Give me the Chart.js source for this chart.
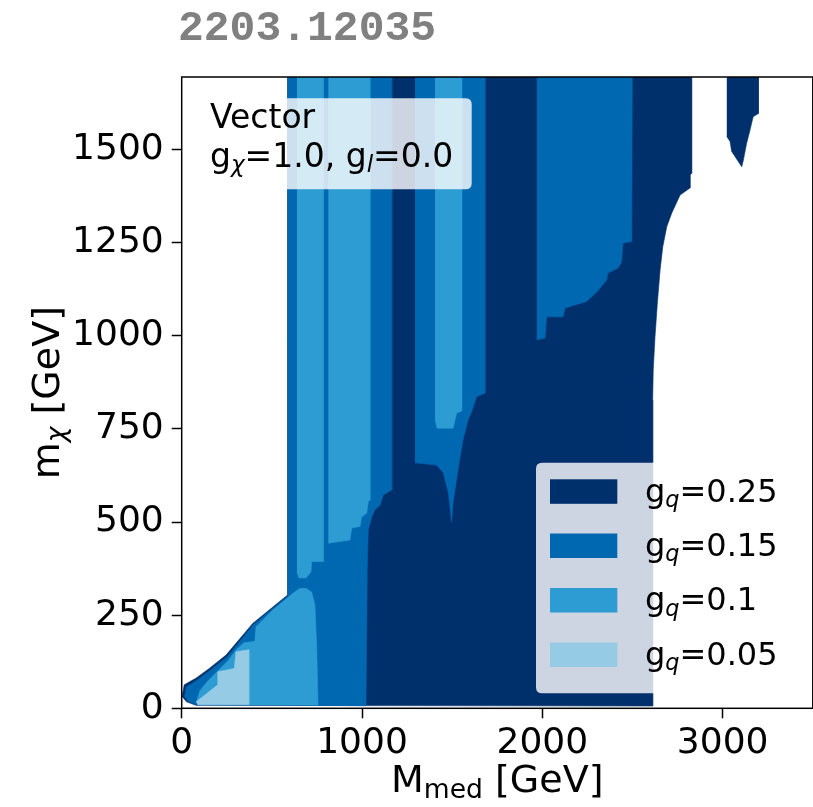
<!DOCTYPE html>
<html><head><meta charset="utf-8">
<script src="https://cdn.jsdelivr.net/npm/chart.js@4.4.0/dist/chart.umd.min.js"></script>
<style>
html,body{margin:0;padding:0;background:#fff;overflow:hidden;width:813px;height:807px;}
canvas{display:block;}
</style></head><body>
<canvas id="c" width="820" height="807"></canvas>
<script>
// ---- tick labels ----
const xTicks = [0, 1000, 2000, 3000];
const yTicks = [0, 250, 500, 750, 1000, 1250, 1500];
// ---- legend entries ----
const couplings = ['0.25', '0.15', '0.1', '0.05'];
const colors = ['#00306c', '#0067b1', '#2c9cd3', '#96cbe5'];
// ---- excluded regions [M_med, m_chi] in GeV ----
const g025_main = [[2,31],[14,63],[79,81],[153,107],[246,143],[394,228],[587,304],[587,1695],[2828,1695],[2828,1436],[2819,1432],[2819,1397],[2764,1378],[2718,1330],[2690,1293],[2668,1239],[2653,1176],[2638,1088],[2625,998],[2615,908],[2612,828],[2612,6],[79,8],[24,18]];
const g025_island = [[3023,1695],[3198,1695],[3198,1597],[3169,1588],[3152,1553],[3133,1517],[3115,1472],[3106,1454],[3050,1495],[3041,1522],[3023,1535]];
const g015_left = [[587,1695],[1165,1695],[1165,586],[1118,573],[1100,546],[1072,533],[1054,514],[1035,479],[1029,371],[1022,7],[79,10],[35,19],[16,32],[26,57],[87,76],[160,103],[254,139],[398,225],[587,301]];
const g015_centre = [[1294,1695],[1682,1695],[1682,846],[1636,837],[1608,796],[1588,774],[1560,720],[1532,640],[1505,551],[1497,501],[1479,578],[1451,632],[1414,653],[1294,659]];
const g015_right = [[1969,1695],[2499,1695],[2496,1253],[2447,1249],[2440,1199],[2420,1182],[2364,1169],[2357,1150],[2302,1118],[2246,1092],[2126,1075],[2115,1051],[2024,1051],[2015,994],[1969,989]];
const g010_strip1 = [[639,1695],[785,1695],[785,394],[721,394],[717,366],[689,350],[651,350],[639,366]];
const g010_strip2 = [[813,1695],[1044,1695],[1044,559],[1035,555],[1026,524],[998,514],[989,488],[943,484],[933,452],[813,443]];
const g010_strip3 = [[1405,1695],[1553,1695],[1553,798],[1525,793],[1505,752],[1416,752],[1405,774]];
const g010_low = [[756,8],[749,162],[739,277],[721,312],[689,322],[656,322],[620,310],[500,262],[412,219],[405,180],[345,176],[300,156],[257,128],[201,101],[146,74],[101,47],[85,22],[90,8]];
const g005_low = [[79,17],[200,63],[200,98],[292,107],[301,152],[372,157],[372,10],[90,10]];

const regions = [
  {pts: g025_main, c: 0}, {pts: g025_island, c: 0},
  {pts: g015_left, c: 1}, {pts: g015_centre, c: 1}, {pts: g015_right, c: 1},
  {pts: g010_strip1, c: 2}, {pts: g010_strip2, c: 2}, {pts: g010_strip3, c: 2}, {pts: g010_low, c: 2},
  {pts: g005_low, c: 3}
];

const datasets = regions.map((r, i) => ({
  label: 'g_q=' + couplings[r.c],
  data: r.pts.map(p => ({x: p[0], y: p[1]})),
  showLine: true,
  fill: 'shape',
  backgroundColor: colors[r.c],
  borderColor: colors[r.c],
  borderWidth: 0.6,
  pointRadius: 0,
  tension: 0,
  order: 10 - r.c
}));

const FONT = '"DejaVu Sans", sans-serif';

function richWidth(ctx, parts, size) {
  let w = 0;
  for (const p of parts) {
    const s = p.sub ? size * 0.7 : size;
    ctx.font = (p.it ? 'italic ' : '') + s + 'px ' + FONT;
    w += ctx.measureText(p.t).width;
  }
  return w;
}
function drawRich(ctx, parts, x, y, size) {
  for (const p of parts) {
    const s = p.sub ? size * 0.7 : size;
    ctx.font = (p.it ? 'italic ' : '') + s + 'px ' + FONT;
    ctx.fillText(p.t, x, y + (p.sub ? size * 0.17 : 0));
    x += ctx.measureText(p.t).width;
  }
}
function rrect(ctx, x, y, w, h, r) {
  ctx.beginPath();
  ctx.moveTo(x + r, y);
  ctx.lineTo(x + w - r, y); ctx.quadraticCurveTo(x + w, y, x + w, y + r);
  ctx.lineTo(x + w, y + h - r); ctx.quadraticCurveTo(x + w, y + h, x + w - r, y + h);
  ctx.lineTo(x + r, y + h); ctx.quadraticCurveTo(x, y + h, x, y + h - r);
  ctx.lineTo(x, y + r); ctx.quadraticCurveTo(x, y, x + r, y);
  ctx.closePath();
}

const deco = {
  id: 'deco',
  afterDatasetsDraw(chart) {
    const ctx = chart.ctx, a = chart.chartArea;
    ctx.save();
    ctx.beginPath(); ctx.rect(a.left, a.top, a.right - a.left, a.bottom - a.top); ctx.clip();
    // annotation box
    rrect(ctx, 193, 98.3, 278.7, 91, 6);
    ctx.fillStyle = 'rgba(255,255,255,0.8)'; ctx.fill();
    ctx.fillStyle = '#000'; ctx.textBaseline = 'alphabetic'; ctx.textAlign = 'left';
    drawRich(ctx, [{t: 'Vector'}], 210, 128, 33);
    drawRich(ctx, [{t: 'g'}, {t: 'χ', sub: true, it: true}, {t: '=1.0, g'}, {t: 'l', sub: true, it: true}, {t: '=0.0'}], 210, 166.7, 33);
    // legend
    rrect(ctx, 536, 462.7, 260, 230.6, 6);
    ctx.fillStyle = 'rgba(255,255,255,0.8)'; ctx.fill();
    const tops = [479.3, 533.5, 588, 642.5];
    couplings.forEach((g, i) => {
      ctx.fillStyle = colors[i];
      ctx.fillRect(550, tops[i], 67.3, 24.5);
      ctx.fillStyle = '#000';
      drawRich(ctx, [{t: 'g'}, {t: 'q', sub: true, it: true}, {t: '=' + g}], 645, tops[i] + 22.4, 32);
    });
    ctx.restore();
    // frame
    ctx.save();
    ctx.strokeStyle = '#000'; ctx.lineWidth = 1.5;
    ctx.strokeRect(a.left, a.top, a.right - a.left, a.bottom - a.top);
    ctx.restore();
  },
  afterDraw(chart) {
    const ctx = chart.ctx, a = chart.chartArea;
    ctx.save();
    ctx.fillStyle = '#000'; ctx.textAlign = 'left'; ctx.textBaseline = 'alphabetic';
    // x title
    const xt = [{t: 'M'}, {t: 'med', sub: true}, {t: ' [GeV]'}];
    const xs = 38, xw = richWidth(ctx, xt, xs);
    drawRich(ctx, xt, (a.left + a.right) / 2 - xw / 2, 792, xs);
    // y title
    const yt = [{t: 'm'}, {t: 'χ', sub: true, it: true}, {t: ' [GeV]'}];
    const ys = 38, yw = richWidth(ctx, yt, ys);
    ctx.translate(59, (a.top + a.bottom) / 2);
    ctx.rotate(-Math.PI / 2);
    drawRich(ctx, yt, -yw / 2, 0, ys);
    ctx.restore();
    // top label
    ctx.save();
    ctx.fillStyle = '#808080';
    ctx.font = 'bold 43px "Liberation Mono", "DejaVu Sans Mono", monospace';
    ctx.textBaseline = 'alphabetic'; ctx.textAlign = 'left';
    ctx.fillText('2203.12035', 178, 40);
    ctx.restore();
  }
};

new Chart(document.getElementById('c'), {
  type: 'scatter',
  data: {datasets},
  options: {
    responsive: false,
    animation: false,
    devicePixelRatio: 1,
    layout: {padding: {top: 77, right: 7.2, left: 0, bottom: 0}},
    plugins: {legend: {display: false}, tooltip: {enabled: false}, title: {display: false}},
    scales: {
      x: {
        type: 'linear', min: 0, max: 3500,
        afterBuildTicks: s => { s.ticks = xTicks.map(v => ({value: v})); },
        afterFit: s => { s.height = 98.7; },
        grid: {display: true, drawOnChartArea: false, drawTicks: true, tickLength: 10, tickColor: '#000', tickWidth: 1.5},
        border: {display: false},
        ticks: {font: {family: 'DejaVu Sans', size: 36}, color: '#000', padding: 4, maxRotation: 0, autoSkip: false, callback: v => String(v)}
      },
      y: {
        type: 'linear', min: 0, max: 1695,
        afterBuildTicks: s => { s.ticks = yTicks.map(v => ({value: v})); },
        afterFit: s => { s.width = 181.7; },
        grid: {display: true, drawOnChartArea: false, drawTicks: true, tickLength: 10, tickColor: '#000', tickWidth: 1.5},
        border: {display: false},
        ticks: {font: {family: 'DejaVu Sans', size: 36}, color: '#000', padding: 8, autoSkip: false, callback: v => String(v)}
      }
    }
  },
  plugins: [deco]
});
</script>
</body></html>
